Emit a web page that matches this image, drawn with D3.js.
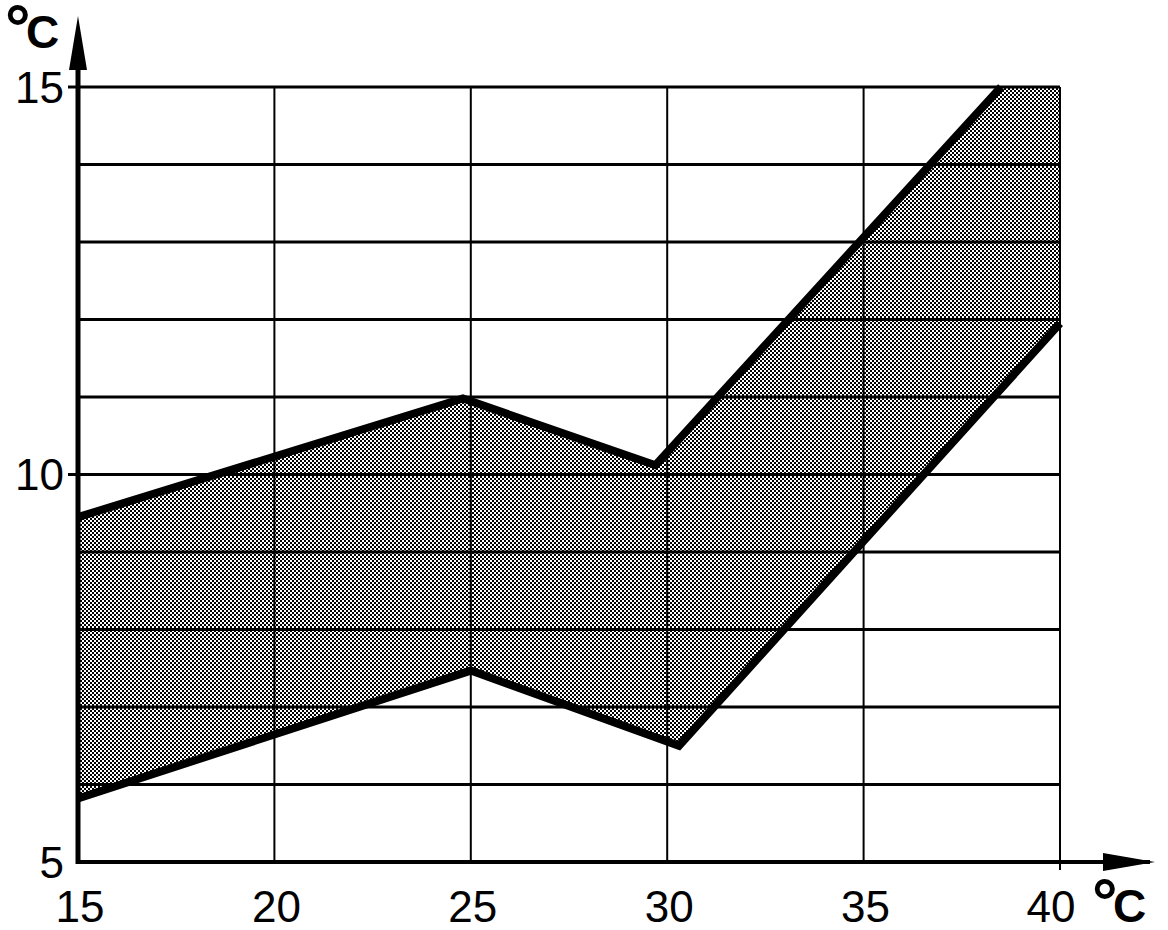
<!DOCTYPE html>
<html lang="en">
<head>
  <meta charset="utf-8">
  <title>Temperature band</title>
  <script src="https://d3js.org/d3.v7.min.js"></script>
  <style>
  body {
    margin: 0;
    background: white;
    font-family: "Liberation Sans", Arial, sans-serif;
  }
  .tick-label {
    font-size: 44px;
    fill: black;
  }
  .unit-label {
    font-size: 46px;
    font-weight: bold;
    fill: black;
  }
  </style>
</head>
<body>
<script>

// Data
var xTicks = [15, 20, 25, 30, 35, 40];
var yLabels = [5, 10, 15];
var yGrid = [6, 7, 8, 9, 10, 11, 12, 13, 14, 15];

var upperX = [15, 24.8, 29.7, 38.5];
var upperY = [9.45, 10.98, 10.12, 15];
var lowerX = [15, 25, 30.3, 40];
var lowerY = [5.82, 7.47, 6.5, 11.95];
var cornerX = [40];
var cornerY = [15];

// Display constants
var width = 1168;
var height = 930;

var x = d3.scaleLinear().domain([15, 40]).range([78, 1060]);
var y = d3.scaleLinear().domain([5, 15]).range([862, 87]);

var svg = d3.select("body")
  .append("svg")
  .attr("width", width)
  .attr("height", height);

// checkerboard shading
var pat = svg.append("defs").append("pattern")
  .attr("id", "checks")
  .attr("patternUnits", "userSpaceOnUse")
  .attr("width", 4)
  .attr("height", 4);
pat.append("rect").attr("width", 4).attr("height", 4).attr("fill", "white");
pat.append("rect").attr("x", 0).attr("y", 0).attr("width", 2).attr("height", 2).attr("fill", "black");
pat.append("rect").attr("x", 2).attr("y", 2).attr("width", 2).attr("height", 2).attr("fill", "black");

var upper = upperX.map(function(d, i) { return [d, upperY[i]]; });
var lower = lowerX.map(function(d, i) { return [d, lowerY[i]]; });
var corner = cornerX.map(function(d, i) { return [d, cornerY[i]]; });

var line = d3.line()
  .x(function(d) { return x(d[0]); })
  .y(function(d) { return y(d[1]); });

// Shaded band
var band = upper.concat(corner, lower.slice().reverse());
svg.append("path")
  .attr("d", line(band) + "Z")
  .attr("fill", "url(#checks)")
  .attr("stroke", "none");

// Horizontal grid
svg.append("g").selectAll("line")
  .data(yGrid)
  .enter().append("line")
  .attr("x1", function(d) { return (yLabels.indexOf(d) >= 0) ? 68 : x(15); })
  .attr("x2", x(40))
  .attr("y1", function(d) { return y(d); })
  .attr("y2", function(d) { return y(d); })
  .attr("stroke", "black")
  .attr("stroke-width", 3);

// Vertical grid
svg.append("g").selectAll("line")
  .data(xTicks.slice(1))
  .enter().append("line")
  .attr("x1", function(d) { return x(d); })
  .attr("x2", function(d) { return x(d); })
  .attr("y1", y(15))
  .attr("y2", function(d) { return d == 40 ? y(5) + 8 : y(5); })
  .attr("stroke", "black")
  .attr("stroke-width", 2);

// Band boundaries
[upper, lower].forEach(function(pts) {
  svg.append("path")
    .attr("d", line(pts))
    .attr("fill", "none")
    .attr("stroke", "black")
    .attr("stroke-width", 8)
    .attr("stroke-linejoin", "miter");
});

// Axes
svg.append("line")
  .attr("x1", x(15)).attr("x2", x(15))
  .attr("y1", y(5) + 2).attr("y2", 60)
  .attr("stroke", "black").attr("stroke-width", 5);
svg.append("path")
  .attr("d", "M" + x(15) + ",16 L" + (x(15) - 9) + ",70 L" + (x(15) + 9) + ",70 Z")
  .attr("fill", "black");

svg.append("line")
  .attr("x1", x(15) - 2).attr("x2", 1150)
  .attr("y1", y(5)).attr("y2", y(5))
  .attr("stroke", "black").attr("stroke-width", 4);
svg.append("path")
  .attr("d", "M1103," + (y(5) - 9) + " L1155," + y(5) + " L1103," + (y(5) + 9) + " Z")
  .attr("fill", "black");

// Tick labels
svg.append("g").selectAll("text")
  .data(yLabels)
  .enter().append("text")
  .attr("class", "tick-label")
  .attr("x", 64)
  .attr("y", function(d) { return y(d); })
  .attr("dy", "0.36em")
  .attr("text-anchor", "end")
  .text(function(d) { return d; });

svg.append("g").selectAll("text")
  .data(xTicks)
  .enter().append("text")
  .attr("class", "tick-label")
  .attr("x", function(d) { return x(d) + (d == 40 ? -9 : 2); })
  .attr("y", 922)
  .attr("text-anchor", "middle")
  .text(function(d) { return d; });

// Units: big raised degree ring, then C  (px, py = top-left of the ring)
function unit(px, py) {
  var t = svg.append("text")
    .attr("class", "unit-label");
  t.append("tspan")
    .attr("x", px - 5).attr("y", py + 40)
    .attr("font-size", "64px")
    .text("°");
  t.append("tspan")
    .attr("x", px + 16).attr("y", py + 38)
    .text("C");
}
unit(10, 10);
unit(1097, 884);

</script>
</body>
</html>
